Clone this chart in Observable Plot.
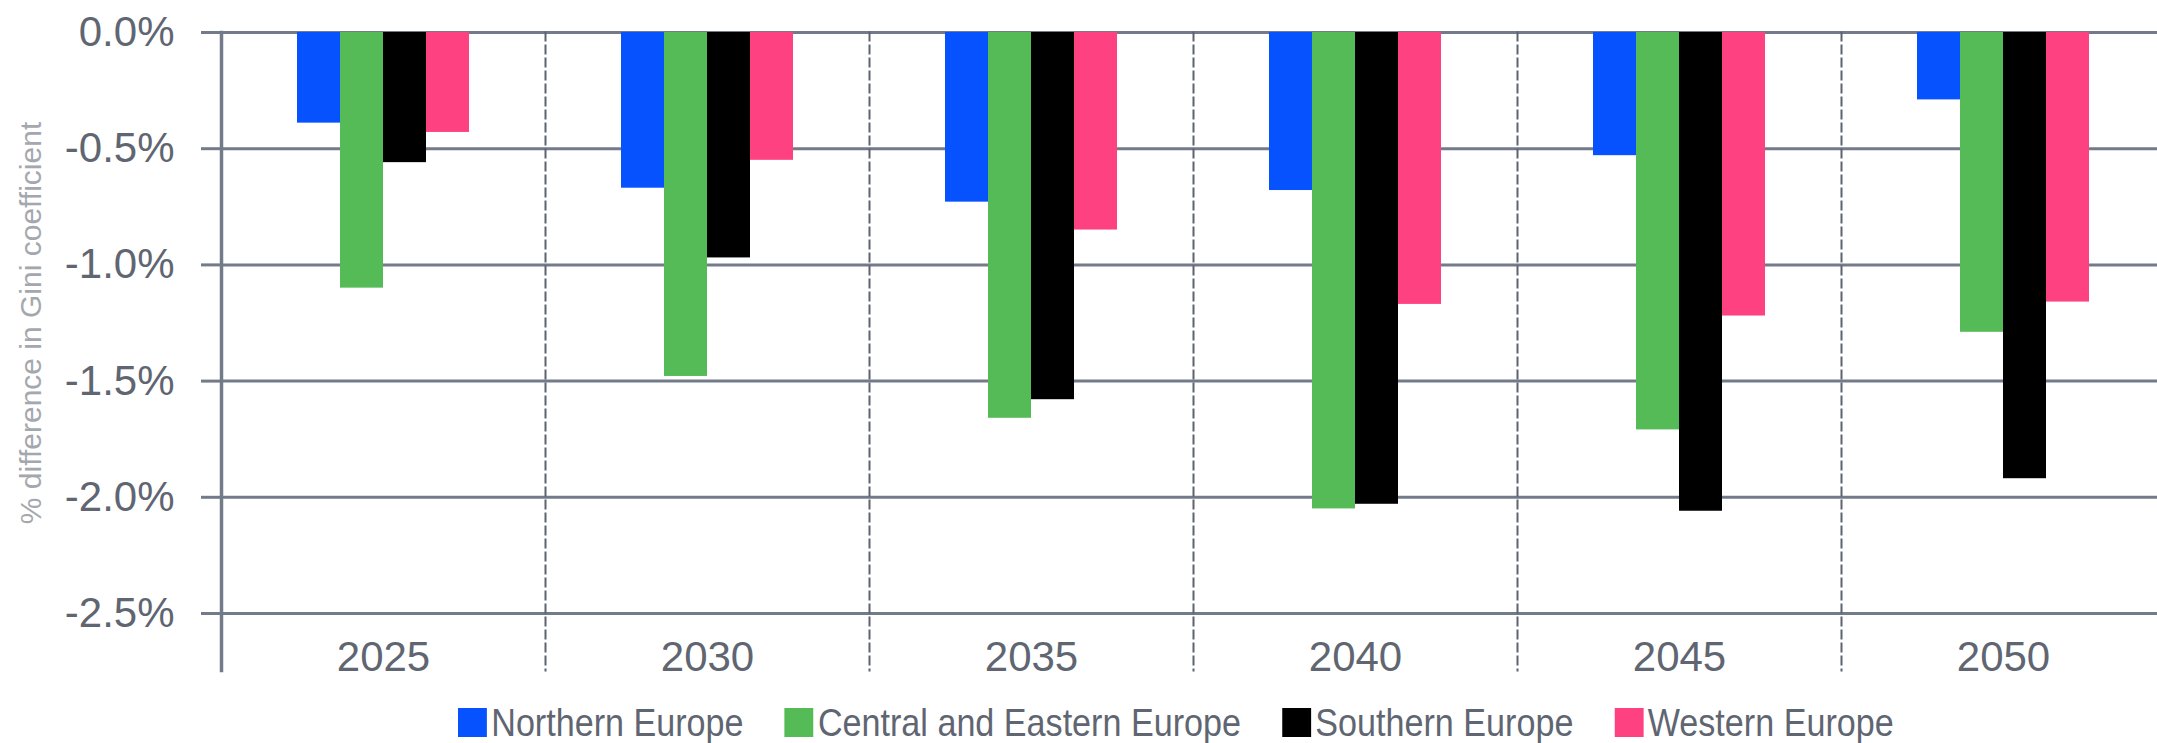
<!DOCTYPE html>
<html>
<head>
<meta charset="utf-8">
<script src="https://cdn.jsdelivr.net/npm/d3@7"></script>
<script src="https://cdn.jsdelivr.net/npm/@observablehq/plot@0.6"></script>
<style>
  html, body { margin: 0; padding: 0; background: #ffffff; overflow: hidden; }
  #wrap { position: relative; width: 2157px; height: 743px; overflow: hidden; }
  #legend {
    position: absolute; left: 458px; top: 703px;
    display: flex; align-items: flex-start; white-space: nowrap;
    font-family: "Liberation Sans", Arial, sans-serif;
    font-size: 39px; line-height: 1; color: #5f6672;
    transform: scaleX(0.875); transform-origin: 0 0;
  }
  #legend .item { display: flex; align-items: flex-start; margin-right: 47px; }
  #legend .sw { width: 33px; height: 29px; margin-top: 5px; margin-right: 5px; }
</style>
</head>
<body>
<div id="wrap"></div>
<script>
// Projected change in the Gini coefficient by European region
const years = ["2025", "2030", "2035", "2040", "2045", "2050"];
const regions = ["Northern Europe", "Central and Eastern Europe", "Southern Europe", "Western Europe"];
const regionColors = ["#0652ff", "#55bb57", "#000000", "#fe4181"];

const northern       = [-0.39, -0.67, -0.73, -0.68, -0.53, -0.29];
const centralEastern = [-1.10, -1.48, -1.66, -2.05, -1.71, -1.29];
const southern       = [-0.56, -0.97, -1.58, -2.03, -2.06, -1.92];
const western        = [-0.43, -0.55, -0.85, -1.17, -1.22, -1.16];

const yTicks = [0, -0.5, -1.0, -1.5, -2.0, -2.5];
const yTitle = "% difference in Gini coefficient";

const series = [northern, centralEastern, southern, western];
const rows = years.flatMap((year, i) =>
  regions.map((region, j) => ({year, region, value: series[j][i]}))
);

const gridColor = "#737b8a";
const textColor = "#5f6672";
const titleColor = "#a4a8ae";

const chart = Plot.plot({
  width: 2157,
  height: 700,
  marginTop: 32,
  marginLeft: 220,
  marginRight: -9,
  marginBottom: 87,
  style: {fontFamily: "'Liberation Sans', Arial, sans-serif", background: "transparent", overflow: "visible"},
  fx: {domain: years, padding: 0},
  x: {domain: regions, paddingInner: 0, paddingOuter: 1.685, axis: null},
  y: {domain: [-2.5, 0]},
  color: {domain: regions, range: regionColors},
  marks: [
    Plot.ruleY(yTicks, {stroke: gridColor, strokeWidth: 3}),
    // dashed separators between year groups
    Plot.frame({anchor: "left", stroke: "#5d6470", strokeWidth: 2, strokeDasharray: "8,5", insetBottom: -57}),
    // solid axis line at the left of the first group
    Plot.frame({anchor: "left", fx: () => years[0], stroke: gridColor, strokeWidth: 3.5, insetBottom: -57}),
    Plot.barY(rows, {fx: "year", x: "region", y: "value", fill: "region"}),
    Plot.axisY({
      ticks: yTicks, tickSize: 20, tickPadding: 27,
      tickFormat: d => d.toFixed(1) + "%",
      fontSize: 42, fill: textColor, stroke: gridColor, strokeWidth: 3, label: null
    }),
    Plot.axisFx({anchor: "bottom", tickSize: 0, tickPadding: 28, fontSize: 42, fill: textColor, label: null}),
    Plot.text([yTitle], {
      fx: () => years[0], text: d => d, frameAnchor: "left", textAnchor: "middle",
      lineAnchor: "middle", rotate: -90, dx: -190, fontSize: 30, fill: titleColor
    })
  ]
});

const wrap = document.getElementById("wrap");
wrap.appendChild(chart);

const legend = document.createElement("div");
legend.id = "legend";
regions.forEach((r, i) => {
  const item = document.createElement("div");
  item.className = "item";
  const sw = document.createElement("div");
  sw.className = "sw";
  sw.style.background = regionColors[i];
  const label = document.createElement("span");
  label.textContent = r;
  item.appendChild(sw);
  item.appendChild(label);
  legend.appendChild(item);
});
wrap.appendChild(legend);
</script>
</body>
</html>
